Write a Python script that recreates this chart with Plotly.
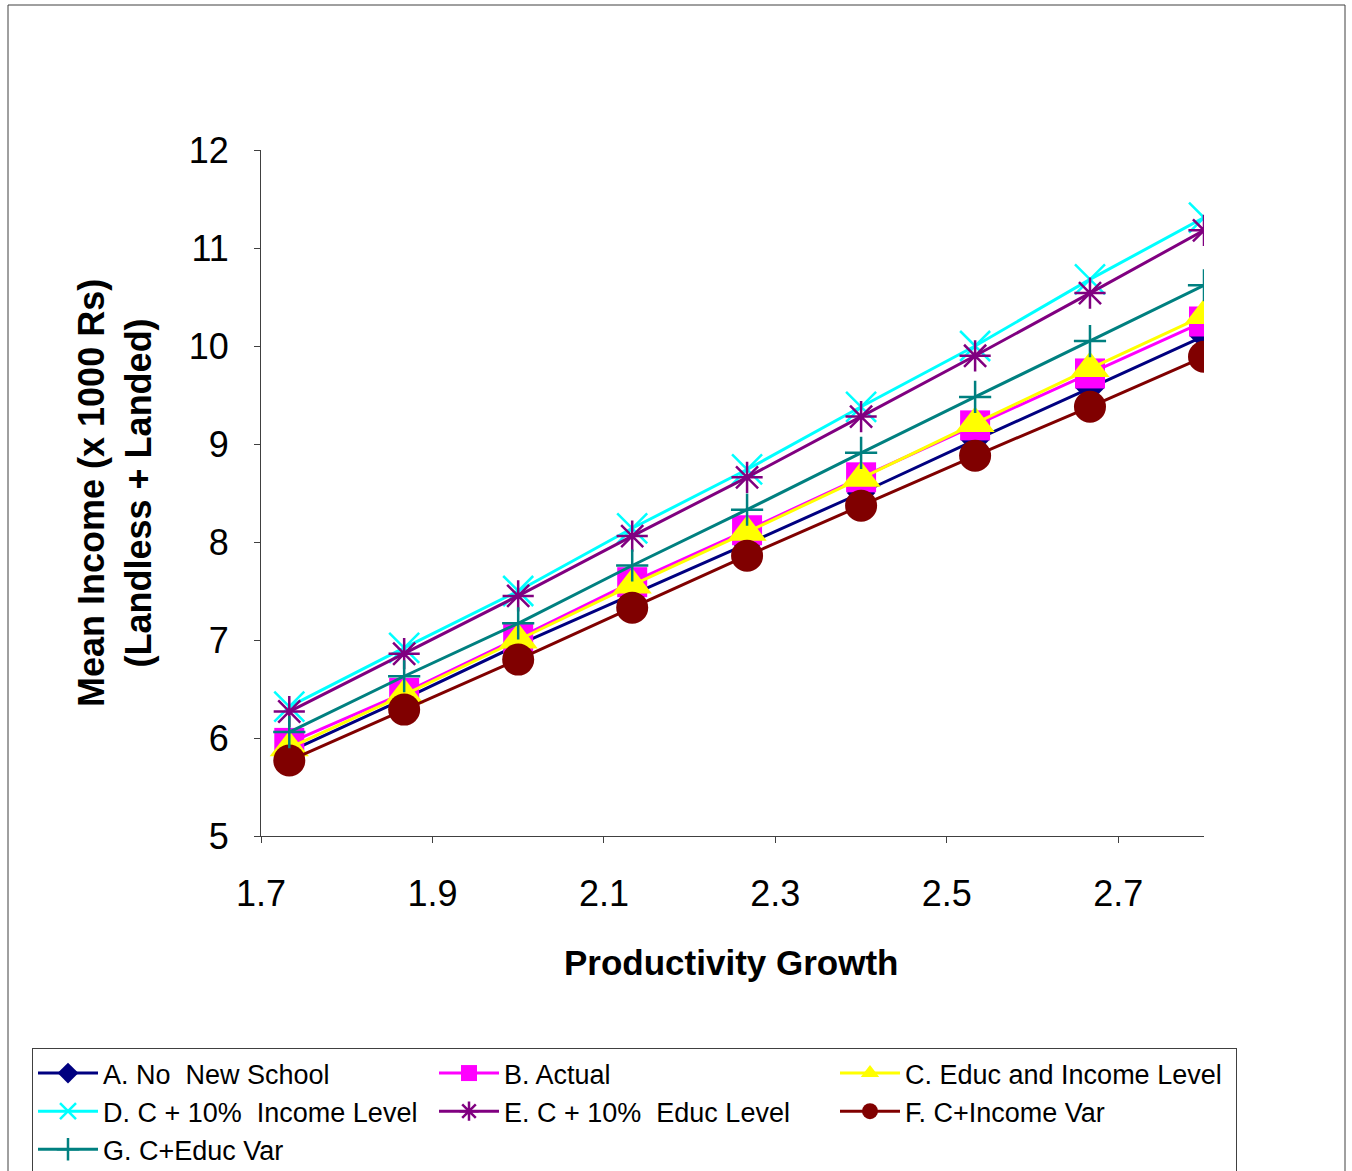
import plotly.graph_objects as go

# Productivity growth values on the horizontal axis
growth = [1.733, 1.867, 2.0, 2.133, 2.267, 2.4, 2.533, 2.667, 2.8]

# Mean income (x 1000 Rs) for each scenario
a_no_new_school = [5.86, 6.40, 6.95, 7.46, 7.98, 8.50, 9.04, 9.57, 10.10]
b_actual = [5.95, 6.46, 7.02, 7.59, 8.12, 8.66, 9.19, 9.72, 10.25]
c_educ_income = [5.90, 6.44, 7.00, 7.56, 8.10, 8.65, 9.21, 9.77, 10.31]
d_income_plus10 = [6.32, 6.92, 7.50, 8.14, 8.74, 9.38, 10.00, 10.68, 11.31]
e_educ_plus10 = [6.27, 6.86, 7.45, 8.06, 8.66, 9.28, 9.90, 10.54, 11.18]
f_income_var = [5.77, 6.29, 6.80, 7.33, 7.86, 8.37, 8.88, 9.38, 9.89]
g_educ_var = [6.06, 6.63, 7.17, 7.76, 8.33, 8.91, 9.48, 10.05, 10.62]

series_names = [
    "A. No  New School",
    "B. Actual",
    "C. Educ and Income Level",
    "D. C + 10%  Income Level",
    "E. C + 10%  Educ Level",
    "F. C+Income Var",
    "G. C+Educ Var",
]
series_values = [a_no_new_school, b_actual, c_educ_income, d_income_plus10,
                 e_educ_plus10, f_income_var, g_educ_var]

x_ticks = [1.7, 1.9, 2.1, 2.3, 2.5, 2.7]
y_ticks = [5, 6, 7, 8, 9, 10, 11, 12]

styles = [
    dict(color="#000080", symbol="diamond", size=22, open=False),
    dict(color="#FF00FF", symbol="square", size=30, open=False),
    dict(color="#FFFF00", symbol="triangle-up", size=34, open=False),
    dict(color="#00FFFF", symbol="x-thin-open", size=30, open=True),
    dict(color="#800080", symbol="asterisk-open", size=26, open=True),
    dict(color="#800000", symbol="circle", size=32, open=False),
    dict(color="#008080", symbol="cross-thin-open", size=23, open=True),
]

FONT = "Liberation Sans, Arial, sans-serif"

fig = go.Figure()
for name, vals, st in zip(series_names, series_values, styles):
    marker = dict(symbol=st["symbol"], size=st["size"], color=st["color"])
    if st["open"]:
        marker["line"] = dict(color=st["color"], width=2.5)
    else:
        marker["line"] = dict(width=0)
    fig.add_trace(go.Scatter(
        x=growth, y=vals, name=name, mode="lines+markers",
        line=dict(color=st["color"], width=3),
        marker=marker,
    ))

W, H = 1352, 1171
L, R, T, B = 261, 148, 150, 335
pw = W - L - R
ph = H - T - B
y0px = H - B  # pixel row of the x axis

fig.update_layout(
    width=W, height=H,
    margin=dict(l=L, r=R, t=T, b=B, pad=0, autoexpand=False),
    paper_bgcolor="white", plot_bgcolor="white",
    font=dict(family=FONT, color="black"),
    showlegend=True,
    legend=dict(
        orientation="h",
        xref="paper", yref="paper",
        x=(32 - L) / pw, y=-(1048 - y0px) / ph,
        xanchor="left", yanchor="top",
        bordercolor="#404040", borderwidth=1,
        bgcolor="white",
        font=dict(family=FONT, size=27, color="black"),
        itemwidth=60,
        entrywidth=326, entrywidthmode="pixels",
        tracegroupgap=0,
    ),
    xaxis=dict(
        range=[1.7, 2.8], tickvals=x_ticks,
        ticktext=[f"{v:.1f}" for v in x_ticks],
        showgrid=False, zeroline=False,
        showline=True, linecolor="#404040", linewidth=1,
        ticks="outside", ticklen=6, tickcolor="#404040",
        ticklabelstandoff=20,
        tickfont=dict(family=FONT, size=36),
    ),
    yaxis=dict(
        range=[5, 12], tickvals=y_ticks,
        showgrid=False, zeroline=False,
        showline=True, linecolor="#404040", linewidth=1,
        ticks="outside", ticklen=6, tickcolor="#404040",
        ticklabelstandoff=18,
        tickfont=dict(family=FONT, size=36),
    ),
    annotations=[
        dict(text="<b>Productivity Growth</b>", xref="paper", yref="paper",
             x=(731 - L) / pw, y=0, yshift=-(962 - y0px),
             xanchor="center", yanchor="middle", showarrow=False,
             font=dict(family=FONT, size=35, color="black")),
        dict(text="<b>Mean Income (x 1000 Rs)<br>(Landless + Landed)</b>",
             xref="paper", yref="paper",
             x=0, xshift=115 - L, y=0.5, textangle=-90,
             xanchor="center", yanchor="middle", showarrow=False,
             font=dict(family=FONT, size=36, color="black")),
    ],
    shapes=[
        dict(type="rect", xref="paper", yref="paper",
             x0=(8 - L) / pw, x1=(1345 - L) / pw,
             y0=-(1185 - y0px) / ph, y1=(y0px - 5) / ph,
             line=dict(color="#404040", width=1), layer="below"),
    ],
)

fig.write_html("out.html")
